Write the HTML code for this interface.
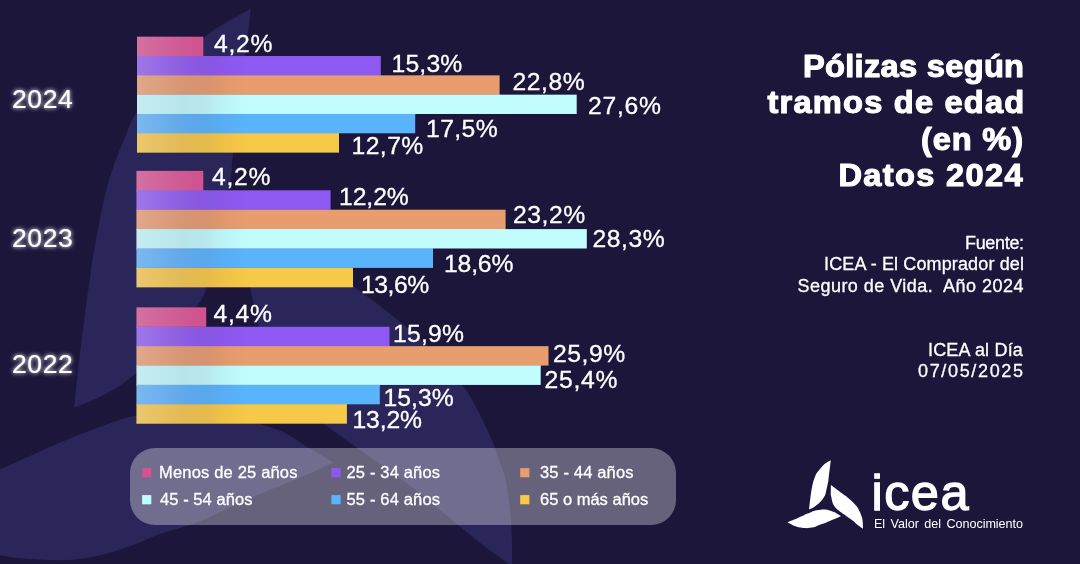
<!DOCTYPE html>
<html lang="es"><head><meta charset="utf-8"><title>Pólizas según tramos de edad</title>
<style>html,body{margin:0;padding:0;background:#1d163b;}body{width:1080px;height:564px;overflow:hidden;}svg{display:block;}
text{font-family:"Liberation Sans",Arial,sans-serif;fill:#fff;white-space:pre;}
.lab{font-size:24px;stroke:#fff;stroke-width:0.3px;}.yr{font-size:26.5px;filter:url(#glow);stroke:#fff;stroke-width:0.15px;}
.ttl{font-size:30.5px;font-weight:bold;stroke:#fff;stroke-width:1.1px;stroke-linejoin:round;}
.src{font-size:18px;stroke:#fff;stroke-width:0.3px;}
.lg{font-size:16.5px;stroke:#fff;stroke-width:0.3px;}
.logo{font-size:50.5px;stroke:#fff;stroke-width:1.3px;}
.tag{font-size:12.6px;word-spacing:2px;}
</style></head><body>
<svg width="1080" height="564" viewBox="0 0 1080 564">
<defs>
<linearGradient id="sh" gradientUnits="userSpaceOnUse" x1="136.5" y1="0" x2="248.5" y2="0"><stop offset="0" stop-color="#ccc2d2" stop-opacity="0.28"/><stop offset="0.25" stop-color="#ccc2d2" stop-opacity="0.17"/><stop offset="0.5" stop-color="#ccc2d2" stop-opacity="0.06"/><stop offset="0.72" stop-color="#ccc2d2" stop-opacity="0"/></linearGradient>
<linearGradient id="sd" gradientUnits="userSpaceOnUse" x1="136.5" y1="0" x2="248.5" y2="0"><stop offset="0" stop-color="#3a2850" stop-opacity="0"/><stop offset="0.25" stop-color="#3a2850" stop-opacity="0.05"/><stop offset="0.42" stop-color="#3a2850" stop-opacity="0.09"/><stop offset="0.62" stop-color="#3a2850" stop-opacity="0.09"/><stop offset="0.82" stop-color="#3a2850" stop-opacity="0.035"/><stop offset="1" stop-color="#3a2850" stop-opacity="0"/></linearGradient>
<filter id="glow" x="-30%" y="-60%" width="160%" height="220%"><feGaussianBlur in="SourceGraphic" stdDeviation="2" result="b"/><feComponentTransfer in="b" result="c"><feFuncA type="linear" slope="1.0"/></feComponentTransfer><feMerge><feMergeNode in="c"/><feMergeNode in="SourceGraphic"/></feMerge></filter>
<g id="petals"><path d="M250.8,8.6C248.7,9.8 242.8,13.3 238.0,16.0C233.2,18.7 227.8,21.3 222.0,25.0C216.2,28.7 212.0,30.6 203.3,38.3C194.6,46.0 181.1,58.6 170.0,71.0C158.9,83.4 144.1,101.8 136.6,112.8C129.1,123.8 129.0,128.2 125.2,136.9C121.4,145.6 117.2,155.8 113.9,165.2C110.6,174.6 108.0,183.2 105.4,193.6C102.8,204.0 100.4,216.8 98.3,227.7C96.2,238.6 94.0,250.2 92.6,258.9C91.2,267.6 90.8,273.0 89.8,280.0C88.8,287.0 87.9,292.3 86.7,301.0C85.5,309.7 84.1,320.8 82.7,332.0C81.3,343.2 79.8,355.4 78.4,368.0C77.0,380.6 74.9,400.9 74.2,407.5C78.1,405.9 90.2,401.4 97.6,397.9C105.0,394.3 112.4,390.3 118.8,386.2C125.2,382.1 128.2,379.8 135.9,373.4C143.6,367.0 156.7,356.4 165.0,348.0C173.3,339.6 180.7,330.0 186.0,323.0C191.3,316.0 193.6,311.8 197.0,306.0C200.4,300.2 202.6,300.3 206.3,288.0C210.0,275.7 214.9,250.3 219.0,232.0C223.1,213.7 228.4,191.0 230.7,178.0C233.0,165.0 230.6,174.5 233.0,154.0C235.4,133.5 242.3,79.2 245.3,55.0C248.3,30.8 249.9,16.3 250.8,8.6Z"/><path d="M252.0,211.0C260.0,217.0 283.2,234.6 300.0,247.0C316.8,259.4 338.2,275.0 352.7,285.7C367.1,296.4 374.4,301.3 386.7,311.2C399.0,321.1 413.8,332.9 426.4,345.2C439.0,357.5 454.1,374.9 462.3,385.2C470.5,395.4 471.7,399.4 475.8,406.7C479.9,414.0 483.8,422.1 487.0,429.0C490.2,435.9 493.0,442.8 495.0,448.0C497.0,453.2 497.3,454.9 499.0,460.0C500.7,465.1 503.6,470.6 505.4,478.5C507.2,486.4 508.6,497.9 509.7,507.6C510.8,517.3 511.4,527.0 511.8,536.7C512.2,546.4 512.0,561.1 512.0,566.0C507.2,562.6 493.1,552.7 483.5,545.4C473.9,538.1 465.1,530.7 454.5,522.0C443.9,513.3 432.7,503.2 419.6,493.0C406.5,482.8 391.8,472.4 376.0,461.0C360.2,449.6 339.3,435.7 325.0,424.7C310.7,413.7 299.5,405.6 290.0,395.0C280.5,384.4 273.9,375.8 268.0,361.0C262.1,346.2 257.3,318.4 254.4,306.2C251.5,294.0 251.3,297.1 250.7,287.7C250.1,278.3 250.8,262.8 251.0,250.0C251.2,237.2 251.8,217.5 252.0,211.0Z"/><path d="M-101.0,512.0C-90.8,508.0 -56.8,495.1 -40.0,488.0C-23.2,480.9 -11.4,474.7 0.0,469.5C11.4,464.3 18.9,460.9 28.4,456.7C37.9,452.4 47.2,448.0 56.7,444.0C66.2,440.0 75.6,436.3 85.1,432.6C94.6,428.9 105.0,424.8 113.5,422.0C122.0,419.2 126.8,417.6 136.2,415.6C145.6,413.6 158.5,411.1 170.0,410.0C181.5,408.9 194.2,408.2 205.0,409.0C215.8,409.8 225.9,412.5 235.0,415.0C244.1,417.5 251.6,421.2 259.6,424.0C267.6,426.8 274.8,428.0 283.0,432.0C291.2,436.0 300.5,442.9 309.0,448.0C317.5,453.1 329.7,460.1 333.8,462.5C331.1,463.8 324.6,466.9 317.6,470.0C310.6,473.1 301.3,477.2 291.6,481.3C281.9,485.4 270.0,489.7 259.2,494.3C248.4,498.9 237.6,504.0 226.8,508.9C216.0,513.8 205.2,519.5 194.4,523.5C183.6,527.5 172.8,529.4 162.0,533.2C151.2,537.0 140.4,542.4 129.6,546.2C118.8,550.0 108.0,553.6 97.2,555.9C86.4,558.2 75.6,559.6 64.8,560.1C54.0,560.6 43.2,560.0 32.4,559.1C21.6,558.2 13.7,558.1 0.0,554.9C-13.7,551.7 -33.2,547.1 -50.0,540.0C-66.8,532.9 -92.5,516.7 -101.0,512.0Z"/></g>
</defs>
<rect class="g" width="1080" height="564" fill="#1d163b"/>
<use class="g" href="#petals" fill="#2b2659"/>
<rect class="g" x="137.0" y="36.70" width="66.3" height="19.32" fill="#d75190"/>
<rect class="g" x="137.0" y="55.82" width="66.3" height="1.2" fill="#d75190"/>
<rect class="g" x="137.0" y="56.02" width="243.8" height="19.32" fill="#8e59f2"/>
<rect class="g" x="137.0" y="75.14" width="243.8" height="1.2" fill="#8e59f2"/>
<rect class="g" x="137.0" y="75.34" width="362.6" height="19.32" fill="#e89d6e"/>
<rect class="g" x="137.0" y="94.46" width="362.6" height="1.2" fill="#e89d6e"/>
<rect class="g" x="137.0" y="94.66" width="439.7" height="19.32" fill="#c2fdfe"/>
<rect class="g" x="137.0" y="113.78" width="278.2" height="1.2" fill="#c2fdfe"/>
<rect class="g" x="137.0" y="113.98" width="278.2" height="19.32" fill="#5ab4fc"/>
<rect class="g" x="137.0" y="133.10" width="202.0" height="1.2" fill="#5ab4fc"/>
<rect class="g" x="137.0" y="133.30" width="202.0" height="19.32" fill="#f7c948"/>
<rect class="g" x="137.0" y="36.70" width="66.3" height="19.32" fill="url(#sh)"/>
<rect class="g" x="137.0" y="36.70" width="66.3" height="19.32" fill="url(#sd)" opacity="0.5"/>
<rect class="g" x="137.0" y="56.02" width="112.0" height="19.32" fill="url(#sh)"/>
<rect class="g" x="137.0" y="56.02" width="112.0" height="19.32" fill="url(#sd)"/>
<rect class="g" x="137.0" y="75.34" width="112.0" height="19.32" fill="url(#sh)"/>
<rect class="g" x="137.0" y="75.34" width="112.0" height="19.32" fill="url(#sd)"/>
<rect class="g" x="137.0" y="94.66" width="112.0" height="19.32" fill="url(#sh)"/>
<rect class="g" x="137.0" y="94.66" width="112.0" height="19.32" fill="url(#sd)"/>
<rect class="g" x="137.0" y="113.98" width="112.0" height="19.32" fill="url(#sh)"/>
<rect class="g" x="137.0" y="113.98" width="112.0" height="19.32" fill="url(#sd)"/>
<rect class="g" x="137.0" y="133.30" width="112.0" height="19.32" fill="url(#sh)"/>
<rect class="g" x="137.0" y="133.30" width="112.0" height="19.32" fill="url(#sd)"/>
<rect class="g" x="136.5" y="170.90" width="66.8" height="19.40" fill="#d75190"/>
<rect class="g" x="136.5" y="190.10" width="66.8" height="1.2" fill="#d75190"/>
<rect class="g" x="136.5" y="190.30" width="194.1" height="19.40" fill="#8e59f2"/>
<rect class="g" x="136.5" y="209.50" width="194.1" height="1.2" fill="#8e59f2"/>
<rect class="g" x="136.5" y="209.70" width="369.1" height="19.40" fill="#e89d6e"/>
<rect class="g" x="136.5" y="228.90" width="369.1" height="1.2" fill="#e89d6e"/>
<rect class="g" x="136.5" y="229.10" width="450.3" height="19.40" fill="#c2fdfe"/>
<rect class="g" x="136.5" y="248.30" width="296.5" height="1.2" fill="#c2fdfe"/>
<rect class="g" x="136.5" y="248.50" width="296.5" height="19.40" fill="#5ab4fc"/>
<rect class="g" x="136.5" y="267.70" width="216.5" height="1.2" fill="#5ab4fc"/>
<rect class="g" x="136.5" y="267.90" width="216.5" height="19.40" fill="#f7c948"/>
<rect class="g" x="136.5" y="170.90" width="66.8" height="19.40" fill="url(#sh)"/>
<rect class="g" x="136.5" y="170.90" width="66.8" height="19.40" fill="url(#sd)" opacity="0.5"/>
<rect class="g" x="136.5" y="190.30" width="112.0" height="19.40" fill="url(#sh)"/>
<rect class="g" x="136.5" y="190.30" width="112.0" height="19.40" fill="url(#sd)"/>
<rect class="g" x="136.5" y="209.70" width="112.0" height="19.40" fill="url(#sh)"/>
<rect class="g" x="136.5" y="209.70" width="112.0" height="19.40" fill="url(#sd)"/>
<rect class="g" x="136.5" y="229.10" width="112.0" height="19.40" fill="url(#sh)"/>
<rect class="g" x="136.5" y="229.10" width="112.0" height="19.40" fill="url(#sd)"/>
<rect class="g" x="136.5" y="248.50" width="112.0" height="19.40" fill="url(#sh)"/>
<rect class="g" x="136.5" y="248.50" width="112.0" height="19.40" fill="url(#sd)"/>
<rect class="g" x="136.5" y="267.90" width="112.0" height="19.40" fill="url(#sh)"/>
<rect class="g" x="136.5" y="267.90" width="112.0" height="19.40" fill="url(#sd)"/>
<rect class="g" x="136.5" y="307.40" width="69.7" height="19.38" fill="#d75190"/>
<rect class="g" x="136.5" y="326.58" width="69.7" height="1.2" fill="#d75190"/>
<rect class="g" x="136.5" y="326.78" width="253.0" height="19.38" fill="#8e59f2"/>
<rect class="g" x="136.5" y="345.96" width="253.0" height="1.2" fill="#8e59f2"/>
<rect class="g" x="136.5" y="346.16" width="412.0" height="19.38" fill="#e89d6e"/>
<rect class="g" x="136.5" y="365.34" width="404.2" height="1.2" fill="#e89d6e"/>
<rect class="g" x="136.5" y="365.54" width="404.2" height="19.38" fill="#c2fdfe"/>
<rect class="g" x="136.5" y="384.72" width="243.3" height="1.2" fill="#c2fdfe"/>
<rect class="g" x="136.5" y="384.92" width="243.3" height="19.38" fill="#5ab4fc"/>
<rect class="g" x="136.5" y="404.10" width="210.4" height="1.2" fill="#5ab4fc"/>
<rect class="g" x="136.5" y="404.30" width="210.4" height="19.38" fill="#f7c948"/>
<rect class="g" x="136.5" y="307.40" width="69.7" height="19.38" fill="url(#sh)"/>
<rect class="g" x="136.5" y="307.40" width="69.7" height="19.38" fill="url(#sd)" opacity="0.5"/>
<rect class="g" x="136.5" y="326.78" width="112.0" height="19.38" fill="url(#sh)"/>
<rect class="g" x="136.5" y="326.78" width="112.0" height="19.38" fill="url(#sd)"/>
<rect class="g" x="136.5" y="346.16" width="112.0" height="19.38" fill="url(#sh)"/>
<rect class="g" x="136.5" y="346.16" width="112.0" height="19.38" fill="url(#sd)"/>
<rect class="g" x="136.5" y="365.54" width="112.0" height="19.38" fill="url(#sh)"/>
<rect class="g" x="136.5" y="365.54" width="112.0" height="19.38" fill="url(#sd)"/>
<rect class="g" x="136.5" y="384.92" width="112.0" height="19.38" fill="url(#sh)"/>
<rect class="g" x="136.5" y="384.92" width="112.0" height="19.38" fill="url(#sd)"/>
<rect class="g" x="136.5" y="404.30" width="112.0" height="19.38" fill="url(#sh)"/>
<rect class="g" x="136.5" y="404.30" width="112.0" height="19.38" fill="url(#sd)"/>
<rect class="g" x="130" y="448" width="546" height="77" rx="25" ry="25" fill="#fff" fill-opacity="0.33"/>
<rect class="g" x="142.1" y="468.1" width="9.2" height="9.2" fill="#d75190"/>
<rect class="g" x="142.1" y="495.1" width="9.2" height="9.2" fill="#c2fdfe"/>
<rect class="g" x="331.4" y="468.1" width="9.2" height="9.2" fill="#8e59f2"/>
<rect class="g" x="331.4" y="495.1" width="9.2" height="9.2" fill="#5ab4fc"/>
<rect class="g" x="520.2" y="468.1" width="9.2" height="9.2" fill="#e89d6e"/>
<rect class="g" x="520.2" y="495.1" width="9.2" height="9.2" fill="#f7c948"/>
<use class="g" href="#petals" fill="#fff" transform="translate(799.91,459.14) scale(0.12315)"/>
<text id="t0" class="lab" transform="translate(214.00,51.7) scale(1.030,1)" style="letter-spacing:0.72px;">4,2%</text>
<text id="t1" class="lab" transform="translate(391.50,71.7) scale(1.030,1)" style="letter-spacing:0.17px;">15,3%</text>
<text id="t2" class="lab" transform="translate(512.50,89.8) scale(1.030,1)" style="letter-spacing:0.50px;">22,8%</text>
<text id="t3" class="lab" transform="translate(588.00,114.4) scale(1.030,1)" style="letter-spacing:0.72px;">27,6%</text>
<text id="t4" class="lab" transform="translate(426.00,137.1) scale(1.030,1)" style="letter-spacing:0.38px;">17,5%</text>
<text id="t5" class="lab" transform="translate(351.50,154.0) scale(1.030,1)" style="letter-spacing:0.42px;">12,7%</text>
<text id="t6" class="lab" transform="translate(212.00,185.1) scale(1.030,1)" style="letter-spacing:0.72px;">4,2%</text>
<text id="t7" class="lab" transform="translate(339.00,204.6) scale(1.030,1)" style="letter-spacing:-0.07px;">12,2%</text>
<text id="t8" class="lab" transform="translate(513.00,222.5) scale(1.030,1)" style="letter-spacing:0.54px;">23,2%</text>
<text id="t9" class="lab" transform="translate(592.50,246.8) scale(1.030,1)" style="letter-spacing:0.50px;">28,3%</text>
<text id="t10" class="lab" transform="translate(444.00,271.8) scale(1.030,1)" style="letter-spacing:-0.17px;">18,6%</text>
<text id="t11" class="lab" transform="translate(361.00,292.9) scale(1.030,1)" style="letter-spacing:-0.48px;">13,6%</text>
<text id="t12" class="lab" transform="translate(213.50,321.7) scale(1.030,1)" style="letter-spacing:0.66px;">4,4%</text>
<text id="t13" class="lab" transform="translate(393.00,341.7) scale(1.030,1)" style="letter-spacing:0.20px;">15,9%</text>
<text id="t14" class="lab" transform="translate(553.00,362.4) scale(1.030,1)" style="letter-spacing:0.51px;">25,9%</text>
<text id="t15" class="lab" transform="translate(544.50,388.3) scale(1.030,1)" style="letter-spacing:0.73px;">25,4%</text>
<text id="t16" class="lab" transform="translate(383.50,406.2) scale(1.030,1)" style="letter-spacing:0.02px;">15,3%</text>
<text id="t17" class="lab" transform="translate(352.50,427.9) scale(1.030,1)" style="letter-spacing:-0.14px;">13,2%</text>
<text id="t18" class="yr" x="12.00" y="108.1" style="letter-spacing:0.60px;">2024</text>
<text id="t19" class="yr" x="12.00" y="246.7" style="letter-spacing:0.60px;">2023</text>
<text id="t20" class="yr" x="12.00" y="372.8" style="letter-spacing:0.60px;">2022</text>
<text id="t21" class="ttl" transform="translate(803.00,77.1) scale(1.070,1)" style="letter-spacing:0.27px;">Pólizas según</text>
<text id="t22" class="ttl" transform="translate(767.50,112.8) scale(1.070,1)" style="letter-spacing:1.12px;">tramos de edad</text>
<text id="t23" class="ttl" transform="translate(921.00,150.0) scale(1.070,1)" style="letter-spacing:0.78px;">(en %)</text>
<text id="t24" class="ttl" transform="translate(838.50,186.3) scale(1.070,1)" style="letter-spacing:1.22px;">Datos 2024</text>
<text id="t25" class="src" x="965.00" y="248.8" style="letter-spacing:-0.33px;">Fuente:</text>
<text id="t26" class="src" x="824.00" y="270.1" style="letter-spacing:0.13px;">ICEA - El Comprador del</text>
<text id="t27" class="src" x="797.50" y="291.7" style="letter-spacing:0.46px;">Seguro de Vida.  Año 2024</text>
<text id="t28" class="src" x="928.00" y="355.7" style="letter-spacing:0.18px;">ICEA al Día</text>
<text id="t29" class="src" x="918.00" y="377.2" style="letter-spacing:1.66px;">07/05/2025</text>
<text id="t30" class="lg" x="159.00" y="478.4" style="letter-spacing:0.18px;">Menos de 25 años</text>
<text id="t31" class="lg" x="160.00" y="505.4" style="letter-spacing:0.07px;">45 - 54 años</text>
<text id="t32" class="lg" x="346.50" y="478.4" style="letter-spacing:0.16px;">25 - 34 años</text>
<text id="t33" class="lg" x="346.50" y="505.4" style="letter-spacing:0.16px;">55 - 64 años</text>
<text id="t34" class="lg" x="540.00" y="478.4" style="letter-spacing:0.16px;">35 - 44 años</text>
<text id="t35" class="lg" x="540.00" y="505.4" style="letter-spacing:-0.00px;">65 o más años</text>
<text id="t36" class="logo" x="871.50" y="510.2" style="letter-spacing:1.44px;">icea</text>
<text id="t37" class="tag" x="874.00" y="528.0" style="letter-spacing:-0.04px;">El Valor del Conocimiento</text>
</svg></body></html>
